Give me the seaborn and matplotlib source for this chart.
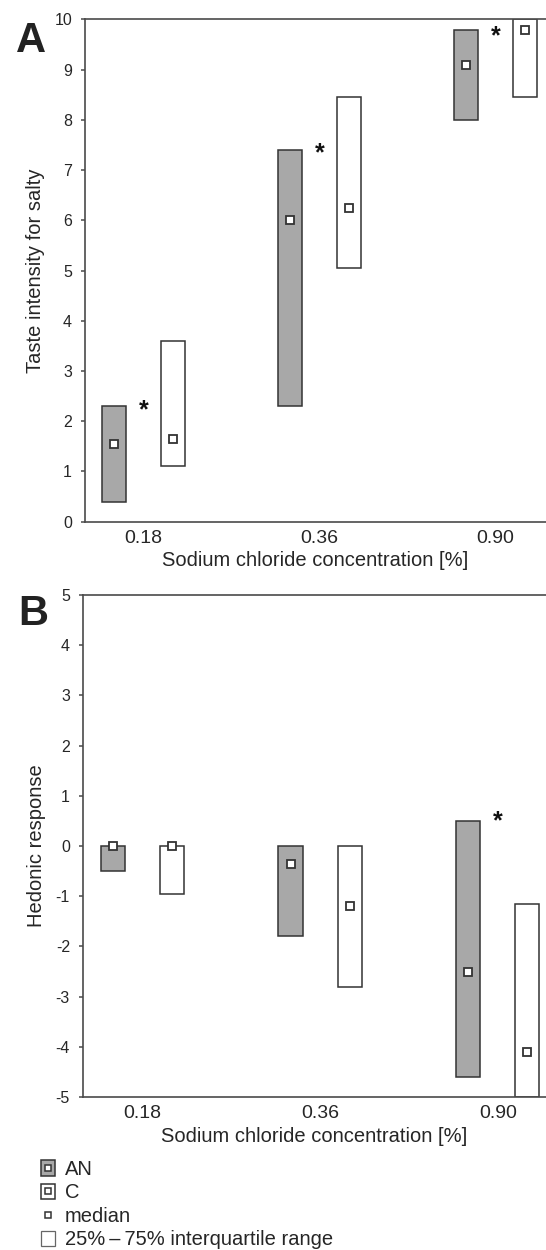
import numpy as np
import pandas as pd
import matplotlib
matplotlib.use("Agg")
import matplotlib.pyplot as plt
import seaborn as sns
from matplotlib.patches import Patch
from matplotlib.lines import Line2D

# ---------------- data ----------------
concentrations = ["0.18", "0.36", "0.90"]
groups = ["AN", "C"]

# Panel A: taste intensity for salty (25% / 75% quartiles and medians)
salty_an_q1 = [0.4, 2.3, 8.0]
salty_an_q3 = [2.3, 7.4, 9.8]
salty_an_median = [1.55, 6.0, 9.1]
salty_c_q1 = [1.1, 5.05, 8.45]
salty_c_q3 = [3.6, 8.45, 10.0]
salty_c_median = [1.65, 6.25, 9.8]
salty_star_conc = ["0.18", "0.36", "0.90"]
salty_star_y = [2.35, 7.47, 9.81]

# Panel B: hedonic response
hedonic_an_q1 = [-0.5, -1.8, -4.6]
hedonic_an_q3 = [0.0, 0.0, 0.5]
hedonic_an_median = [0.0, -0.35, -2.5]
hedonic_c_q1 = [-0.95, -2.8, -5.0]
hedonic_c_q3 = [0.0, 0.0, -1.15]
hedonic_c_median = [0.0, -1.2, -4.1]
hedonic_star_conc = ["0.90"]
hedonic_star_y = [0.63]

legend_labels = ["AN", "C", "median", "25%\u2009\u2013\u200975% interquartile range"]

# ---------------- style ----------------
sns.set_theme(style="white")
plt.rcParams["font.family"] = ["Liberation Sans", "DejaVu Sans"]
plt.rcParams["axes.unicode_minus"] = False

AN_COLOR = "#a8a8a8"
C_COLOR = "#ffffff"
EDGE = "#333333"
SPINE = "#4a4a4a"
palette = {"AN": AN_COLOR, "C": C_COLOR}

fig = plt.figure(figsize=(5.46, 12.5), dpi=100)
W, H = 546.0, 1250.0


def draw_panel(ax, an_q1, an_q3, an_med, c_q1, c_q3, c_med, star_conc, star_y,
               ylim, ylabel, xlim):
    df = pd.DataFrame({
        "conc": concentrations * 2,
        "group": ["AN"] * 3 + ["C"] * 3,
        "height": list(np.subtract(an_q3, an_q1)) + list(np.subtract(c_q3, c_q1)),
    })
    sns.barplot(data=df, x="conc", y="height", hue="group",
                order=concentrations, hue_order=groups, palette=palette,
                dodge=True, width=0.667, gap=0.59,
                saturation=1, errorbar=None, legend=False,
                edgecolor=EDGE, linewidth=1.1, ax=ax)
    # floating bars: each bar starts at its 25% quartile
    for container, q1 in zip(ax.containers, [an_q1, c_q1]):
        for bar, b in zip(container, q1):
            bar.set_y(b)
    med_df = pd.DataFrame({
        "conc": concentrations * 2,
        "group": ["AN"] * 3 + ["C"] * 3,
        "median": list(an_med) + list(c_med),
    })
    sns.pointplot(data=med_df, x="conc", y="median", hue="group",
                  order=concentrations, hue_order=groups, palette=palette,
                  dodge=0.333, marker="s", linestyle="none", errorbar=None,
                  markersize=6, markeredgewidth=1.3, markerfacecolor="white",
                  markeredgecolor=EDGE, legend=False, zorder=5, ax=ax)
    for c, y in zip(star_conc, star_y):
        ax.annotate("*", (concentrations.index(c), y), xytext=(0, -10),
                    textcoords="offset points", ha="center", va="baseline",
                    fontsize=18, fontweight="bold", color="#111111")
    ax.set_ylim(*ylim)
    ax.set_xlim(*xlim)
    ax.set_yticks(np.arange(ylim[0], ylim[1] + 1, 1))
    ax.set_xlabel("Sodium chloride concentration [%]", fontsize=14.5, labelpad=3)
    ax.set_ylabel(ylabel, fontsize=14.5)
    ax.tick_params(axis="y", length=3, width=1.1, color=SPINE, labelsize=11.5,
                   pad=6, left=True)
    ax.tick_params(axis="x", length=0, labelsize=14, pad=6)
    for side in ["left", "bottom", "top"]:
        ax.spines[side].set_visible(True)
        ax.spines[side].set_color(SPINE)
        ax.spines[side].set_linewidth(1.2)
    ax.spines["right"].set_visible(False)
    ax.set_facecolor("white")


axA = fig.add_axes([84.6 / W, 1 - 521.7 / H, 1 - 84.6 / W, (521.7 - 19.5) / H])
draw_panel(axA, salty_an_q1, salty_an_q3, salty_an_median,
           salty_c_q1, salty_c_q3, salty_c_median,
           salty_star_conc, salty_star_y, (0, 10),
           "Taste intensity for salty", (-0.334, 2.288))
axA.yaxis.set_label_coords((45 - 84.6) / (W - 84.6), 0.5)

axB = fig.add_axes([82.5 / W, 1 - 1097.0 / H, 1 - 82.5 / W, (1097.0 - 595.0) / H])
draw_panel(axB, hedonic_an_q1, hedonic_an_q3, hedonic_an_median,
           hedonic_c_q1, hedonic_c_q3, hedonic_c_median,
           hedonic_star_conc, hedonic_star_y, (-5, 5),
           "Hedonic response", (-0.338, 2.272))
axB.yaxis.set_label_coords((46 - 82.5) / (W - 82.5), 0.5)

# panel letters
fig.text(15.5 / W, 1 - 51.7 / H, "A", fontsize=30, fontweight="bold",
         ha="left", va="baseline", color="#222222")
fig.text(18.5 / W, 1 - 625.0 / H, "B", fontsize=30, fontweight="bold",
         ha="left", va="baseline", color="#222222")

# legend
an_patch = Patch(facecolor=AN_COLOR, edgecolor=EDGE, linewidth=1.1)
c_patch = Patch(facecolor=C_COLOR, edgecolor=EDGE, linewidth=1.1)
med_marker = Line2D([], [], linestyle="none", marker="s", markersize=4.8,
                    markerfacecolor="white", markeredgecolor=EDGE,
                    markeredgewidth=1.1)
iqr_patch = Patch(facecolor="white", edgecolor="#666666", linewidth=0.9)
fig.legend(handles=[(an_patch, med_marker), (c_patch, med_marker), med_marker, iqr_patch],
           labels=legend_labels, loc="upper left",
           bbox_to_anchor=(40.7 / W, 1 - 1160.0 / H), frameon=False,
           fontsize=14.5, handlelength=0.7, handleheight=0.8,
           handletextpad=0.5, labelspacing=0.22, borderpad=0, borderaxespad=0)

fig.savefig("out.png", dpi=100)
